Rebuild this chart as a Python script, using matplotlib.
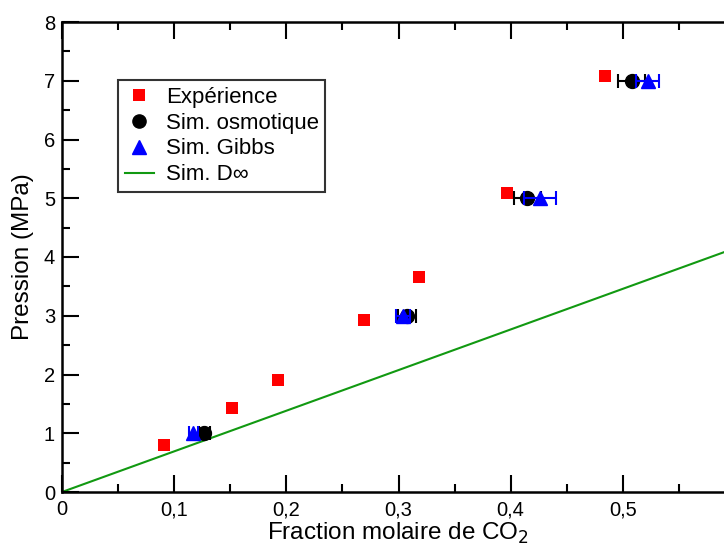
import matplotlib
matplotlib.use("Agg")
import matplotlib.pyplot as plt
from matplotlib.ticker import MultipleLocator, FuncFormatter
from matplotlib.lines import Line2D

plt.rcParams['font.family'] = ['Liberation Sans', 'DejaVu Sans']

# Data
exp_x = [0.091, 0.1515, 0.193, 0.269, 0.318, 0.397, 0.484]
exp_p = [0.80, 1.43, 1.91, 2.93, 3.66, 5.09, 7.08]

osm_x = [0.127, 0.3075, 0.415, 0.508]
osm_p = [1.0, 3.0, 5.0, 7.0]
osm_err = [0.005, 0.008, 0.012, 0.012]

gibbs_x = [0.117, 0.304, 0.426, 0.522]
gibbs_p = [1.0, 3.0, 5.0, 7.0]
gibbs_err = [0.004, 0.006, 0.014, 0.010]

dinf_x = [0.0, 0.6]
dinf_p = [0.0, 4.15]

green = '#119911'

fig = plt.figure(figsize=(7.24, 5.51), dpi=100)
ax = fig.add_axes([62/724, 59/551, 673/724, 470/551])

ax.plot(dinf_x, dinf_p, color=green, lw=1.5, zorder=1)
ax.plot(exp_x, exp_p, 's', color='#ff0000', ms=8.6, mew=0, zorder=3)
ax.errorbar(osm_x, osm_p, xerr=osm_err, fmt='o', color='black', ms=10, capsize=5,
            elinewidth=1.5, capthick=1.5, zorder=4)
ax.errorbar(gibbs_x, gibbs_p, xerr=gibbs_err, fmt='^', color='#0000ff', ms=10, capsize=5,
            elinewidth=1.5, capthick=1.5, zorder=5)

ax.set_xlim(0, 0.6)
ax.set_ylim(0, 8)
ax.xaxis.set_major_locator(MultipleLocator(0.1))
ax.xaxis.set_minor_locator(MultipleLocator(0.05))
ax.yaxis.set_major_locator(MultipleLocator(1))
ax.yaxis.set_minor_locator(MultipleLocator(0.5))
ax.xaxis.set_major_formatter(FuncFormatter(
    lambda v, p: '' if v > 0.58 else ('%g' % round(v, 2)).replace('.', ',')))
ax.tick_params(which='both', direction='in', top=True, right=False, width=1.5)
ax.tick_params(which='major', length=12, labelsize=14.5, pad=6)
ax.tick_params(which='minor', length=6)
ax.tick_params(axis='y', pad=5)
for s in ax.spines.values():
    s.set_linewidth(1.8)

ax.set_xlabel('Fraction molaire de CO$_2$', fontsize=17.5, labelpad=1)
ax.set_ylabel('Pression (MPa)', fontsize=17.5, labelpad=7)

handles = [
    Line2D([], [], ls='none', marker='s', color='#ff0000', ms=8, mew=0),
    Line2D([], [], ls='none', marker='o', color='black', ms=9.5),
    Line2D([], [], ls='none', marker='^', color='#0000ff', ms=9.5),
    Line2D([], [], color=green, lw=1.5),
]
labels = ['Expérience', 'Sim. osmotique', 'Sim. Gibbs', 'Sim. D\u221e']
leg = fig.legend(handles, labels, loc='upper left', bbox_to_anchor=(118/724, 1 - 80/551),
                 fontsize=16, frameon=True, fancybox=False, borderaxespad=0,
                 handlelength=1.3, handletextpad=0.55, labelspacing=0.22, borderpad=0.3)
leg.get_frame().set_edgecolor('black')
leg.get_frame().set_linewidth(1.5)

fig.savefig('out.png', dpi=100)
